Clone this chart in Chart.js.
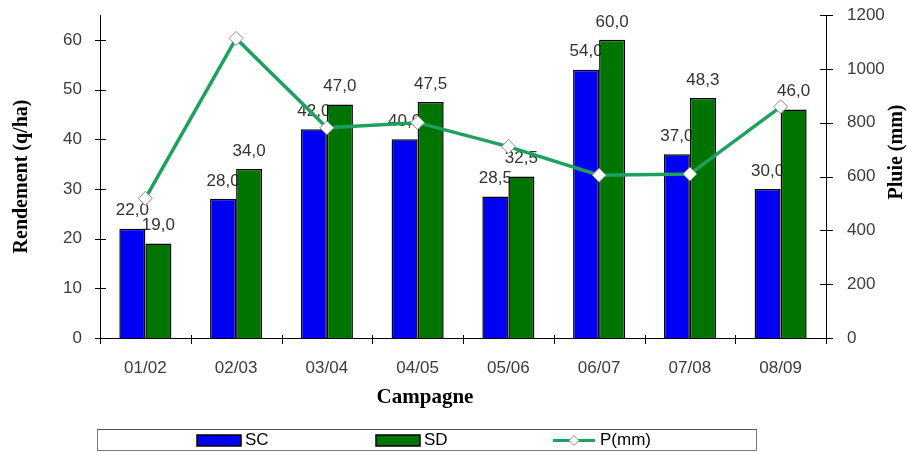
<!DOCTYPE html>
<html>
<head>
<meta charset="utf-8">
<script src="https://cdn.jsdelivr.net/npm/chart.js@4"></script>
<style>
  html, body { margin: 0; padding: 0; background: #fff; }
  #wrap { width: 908px; height: 452px; }
</style>
</head>
<body>
<div id="wrap"><canvas id="myChart" width="908" height="452"></canvas></div>
<script>
// values
const campagnes = ["01/02", "02/03", "03/04", "04/05", "05/06", "06/07", "07/08", "08/09"];
const scValues = [22, 28, 42, 40, 28.5, 54, 37, 30];
const sdValues = [19, 34, 47, 47.5, 32.5, 60, 48.3, 46];
const pluieValues = [519, 1113, 781, 800, 711, 605, 609, 859];
const rendementTicks = [0, 10, 20, 30, 40, 50, 60];
const pluieTicks = [0, 200, 400, 600, 800, 1000, 1200];

Chart.defaults.font.family = "'Liberation Sans', Arial, sans-serif";
Chart.defaults.font.size = 17;
Chart.defaults.color = "#3c3c3c";

const serifBold = "bold 20px 'Liberation Serif', 'Times New Roman', serif";
const fmt = (v) => v.toFixed(1).replace(".", ",");

// bar value labels, drawn before the bars so neighbouring bars cover them
const barLabels = {
  id: "barLabels",
  beforeDatasetsDraw(chart) {
    const ctx = chart.ctx;
    ctx.save();
    ctx.font = "17px 'Liberation Sans', Arial, sans-serif";
    ctx.fillStyle = "#333";
    ctx.textAlign = "center";
    ctx.textBaseline = "middle";
    chart.data.datasets.forEach((d, di) => {
      const meta = chart.getDatasetMeta(di);
      if (meta.type !== "bar") return;
      meta.data.forEach((bar, i) => {
        ctx.fillText(fmt(d.data[i]), bar.x, bar.y - 18);
      });
    });
    ctx.restore();
  },
};

// axis lines with ticks crossing them
const axes = {
  id: "axes",
  beforeDatasetsDraw(chart) {
    const ctx = chart.ctx;
    const a = chart.chartArea;
    const x = chart.scales.x, y = chart.scales.y, y1 = chart.scales.y1;
    ctx.save();
    ctx.strokeStyle = "#000";
    ctx.lineWidth = 1;
    ctx.beginPath();
    ctx.moveTo(a.left + 0.5, a.top);
    ctx.lineTo(a.left + 0.5, a.bottom);
    ctx.moveTo(a.right + 0.5, a.top);
    ctx.lineTo(a.right + 0.5, a.bottom);
    ctx.moveTo(a.left, a.bottom + 0.5);
    ctx.lineTo(a.right, a.bottom + 0.5);
    rendementTicks.forEach((v) => {
      const py = Math.round(y.getPixelForValue(v)) + 0.5;
      ctx.moveTo(a.left - 5, py);
      ctx.lineTo(a.left + 6, py);
    });
    pluieTicks.forEach((v) => {
      const py = Math.round(y1.getPixelForValue(v)) + 0.5;
      ctx.moveTo(a.right - 6, py);
      ctx.lineTo(a.right + 7, py);
    });
    for (let i = 0; i <= campagnes.length; i++) {
      const px = Math.round(x.getPixelForValue(i - 0.5)) + 0.5;
      ctx.moveTo(px, a.bottom - 3);
      ctx.lineTo(px, a.bottom + 6);
    }
    ctx.stroke();
    ctx.restore();
  },
};

// axis titles, and the boxed legend at the bottom
const extras = {
  id: "extras",
  afterDraw(chart) {
    const ctx = chart.ctx;
    const ds = chart.data.datasets;
    ctx.save();
    ctx.fillStyle = "#000";
    ctx.textAlign = "center";
    ctx.textBaseline = "middle";
    ctx.font = "bold 21px 'Liberation Serif', 'Times New Roman', serif";
    ctx.fillText("Campagne", 425, 398);
    ctx.font = serifBold;
    ctx.translate(897, 152);
    ctx.rotate(-Math.PI / 2);
    ctx.fillText("Pluie (mm)", 0, 0);
    ctx.restore();

    ctx.save();
    ctx.strokeStyle = "#7a7a7a";
    ctx.lineWidth = 1;
    ctx.strokeRect(97.5, 429.5, 659, 21);
    ctx.strokeStyle = "#555";
    ctx.beginPath();
    ctx.moveTo(97, 429.5);
    ctx.lineTo(757, 429.5);
    ctx.stroke();

    const starts = [197, 376, 553];
    ctx.font = "17px 'Liberation Sans', Arial, sans-serif";
    ctx.textBaseline = "middle";
    ds.forEach((d, i) => {
      const sx = starts[i];
      const cy = 440.5;
      if (d.type === "line") {
        ctx.strokeStyle = d.borderColor;
        ctx.lineWidth = 3;
        ctx.beginPath();
        ctx.moveTo(sx, cy);
        ctx.lineTo(sx + 42, cy);
        ctx.stroke();
        ctx.fillStyle = "#fff";
        ctx.strokeStyle = d.pointBorderColor;
        ctx.lineWidth = 1;
        ctx.beginPath();
        ctx.moveTo(sx + 21, cy - 5);
        ctx.lineTo(sx + 26, cy);
        ctx.lineTo(sx + 21, cy + 5);
        ctx.lineTo(sx + 16, cy);
        ctx.closePath();
        ctx.fill();
        ctx.stroke();
        ctx.fillStyle = "#000";
        ctx.fillText(d.label, sx + 47, cy);
      } else {
        ctx.fillStyle = d.backgroundColor;
        ctx.fillRect(sx, cy - 5.5, 44, 11);
        ctx.strokeStyle = "#000";
        ctx.lineWidth = 1.5;
        ctx.strokeRect(sx, cy - 5.5, 44, 11);
        ctx.fillStyle = "#000";
        ctx.fillText(d.label, sx + 48, cy);
      }
    });
    ctx.restore();
  },
};

function noLabelPadding(scale) {
  scale.paddingTop = 0;
  scale.paddingBottom = 0;
  scale.paddingLeft = 0;
  scale.paddingRight = 0;
}

const ctx = document.getElementById("myChart");
new Chart(ctx, {
  type: "bar",
  data: {
    labels: campagnes,
    datasets: [
      {
        label: "SC",
        data: scValues,
        backgroundColor: "#0000f2",
        borderColor: "#000",
        borderWidth: 1.5,
        yAxisID: "y",
        order: 1,
      },
      {
        label: "SD",
        data: sdValues,
        backgroundColor: "#007400",
        borderColor: "#000",
        borderWidth: 1.5,
        yAxisID: "y",
        order: 2,
      },
      {
        type: "line",
        label: "P(mm)",
        data: pluieValues,
        borderColor: "#1ca25e",
        borderWidth: 3.5,
        tension: 0,
        pointStyle: "rectRot",
        pointRadius: 7,
        pointBackgroundColor: "#fff",
        pointBorderColor: "#8a8a8a",
        pointBorderWidth: 1,
        yAxisID: "y1",
        order: 0,
      },
    ],
  },
  options: {
    responsive: false,
    animation: false,
    layout: { padding: { top: 15, left: 0, right: 0, bottom: 40 } },
    datasets: {
      bar: { categoryPercentage: 0.574, barPercentage: 1.0, borderSkipped: "bottom" },
    },
    plugins: {
      legend: { display: false },
      tooltip: { enabled: false },
    },
    scales: {
      x: {
        grid: { display: false, drawTicks: false },
        border: { display: false },
        ticks: { padding: 20, color: "#3c3c3c", maxRotation: 0 },
        afterFit(scale) { scale.height = 74; noLabelPadding(scale); },
      },
      y: {
        position: "left",
        min: 0,
        max: 65,
        grid: { display: false, drawTicks: false },
        border: { display: false },
        ticks: { padding: 18, color: "#3c3c3c", callback: (v) => String(v) },
        afterBuildTicks(scale) { scale.ticks = rendementTicks.map((v) => ({ value: v })); },
        title: {
          display: true,
          text: "Rendement (q/ha)",
          color: "#000",
          font: { family: "'Liberation Serif', 'Times New Roman', serif", size: 20, weight: "bold" },
          padding: { top: 10, bottom: 0 },
        },
        afterFit(scale) { scale.width = 100; noLabelPadding(scale); },
      },
      y1: {
        position: "right",
        min: 0,
        max: 1200,
        grid: { display: false, drawTicks: false },
        border: { display: false },
        ticks: { padding: 21, color: "#3c3c3c", callback: (v) => String(v) },
        afterBuildTicks(scale) { scale.ticks = pluieTicks.map((v) => ({ value: v })); },
        afterFit(scale) { scale.width = 82; noLabelPadding(scale); },
      },
    },
  },
  plugins: [barLabels, axes, extras],
});
</script>
</body>
</html>
